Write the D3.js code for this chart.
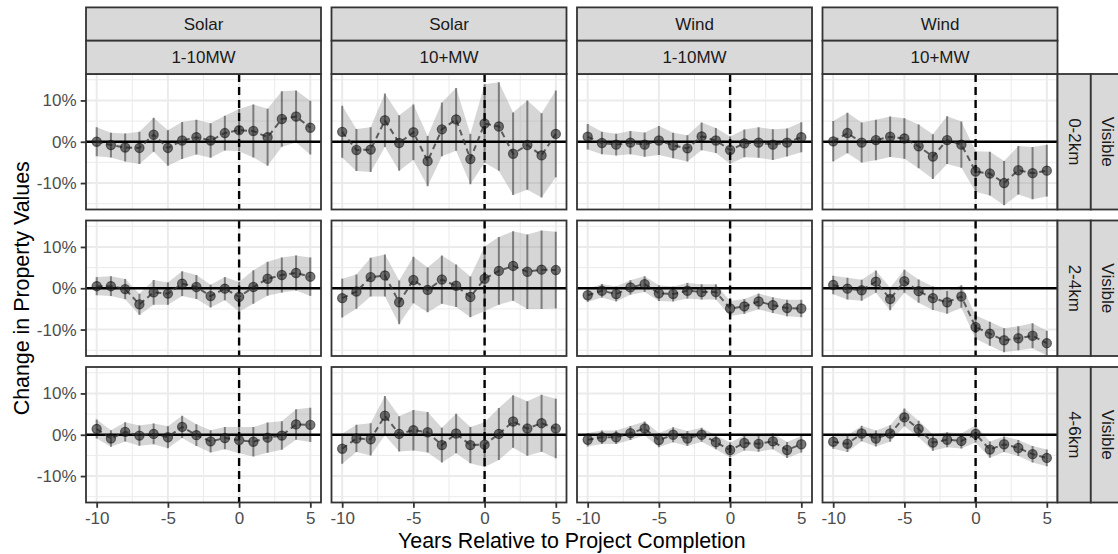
<!DOCTYPE html>
<html>
<head>
<meta charset="utf-8">
<script src="https://cdn.jsdelivr.net/npm/d3@7"></script>
<style>
  html, body { margin: 0; padding: 0; background: #ffffff; }
  svg { display: block; font-family: "Liberation Sans", Arial, Helvetica, sans-serif; }
</style>
</head>
<body>
<svg id="chart" width="1118" height="554"></svg>
<script>
// ---- Facet labels and axis ticks ----
const years = [-10, -9, -8, -7, -6, -5, -4, -3, -2, -1, 0, 1, 2, 3, 4, 5];
const technologies = ["Solar", "Solar", "Wind", "Wind"];
const capacities = ["1-10MW", "10+MW", "1-10MW", "10+MW"];
const distances = ["0-2km", "2-4km", "4-6km"];
const visibility = ["Visible", "Visible", "Visible"];
const xTicks = [-10, -5, 0, 5];
const xTickLabels = ["-10", "-5", "0", "5"];
const yTicks = [-10, 0, 10];
const yTickLabels = ["-10%", "0%", "10%"];
const xTitle = "Years Relative to Project Completion";
const yTitle = "Change in Property Values";

// ---- Event-study estimates (% change) and 95% CI half-widths ----
// Solar 1-10MW
const solarSmall02   = [0.0, -0.8, -1.4, -1.5, 1.7, -1.5, 0.3, 1.1, 0.3, 2.1, 2.8, 2.6, 1.1, 5.5, 6.1, 3.4];
const solarSmall02Ci = [3.5, 3.0, 3.4, 3.9, 4.1, 4.3, 4.5, 4.2, 4.2, 4.2, 5.1, 6.4, 6.9, 6.7, 6.3, 6.5];
const solarSmall24   = [0.5, 0.5, -0.2, -3.9, -1.0, -1.3, 1.1, 0.3, -1.9, -0.1, -2.1, 0.3, 2.3, 3.2, 3.7, 2.8];
const solarSmall24Ci = [2.2, 2.4, 2.45, 2.55, 3.0, 2.7, 3.0, 2.9, 2.75, 2.8, 3.6, 4.05, 4.1, 4.25, 4.25, 4.65];
const solarSmall46   = [1.4, -0.9, 0.7, -0.2, 0.2, -0.6, 1.9, -0.1, -1.6, -0.8, -1.3, -1.7, -0.7, -0.2, 2.5, 2.4];
const solarSmall46Ci = [2.3, 2.0, 2.35, 2.45, 2.5, 2.65, 2.7, 2.65, 2.7, 2.7, 3.2, 3.55, 3.65, 3.45, 3.7, 4.15];
// Solar 10+MW
const solarLarge02   = [2.4, -2.0, -1.9, 5.2, -0.3, 2.3, -4.7, 3.0, 5.4, -4.2, 4.4, 3.7, -2.9, -0.8, -3.3, 1.9];
const solarLarge02Ci = [6.3, 5.1, 5.4, 6.5, 6.7, 6.7, 6.1, 6.5, 7.6, 6.1, 9.5, 10.7, 10.0, 10.8, 10.2, 10.5];
const solarLarge24   = [-2.4, -0.8, 2.7, 3.1, -3.4, 2.0, -0.4, 2.1, 0.6, -2.1, 2.3, 4.2, 5.4, 4.0, 4.5, 4.4];
const solarLarge24Ci = [4.7, 4.15, 4.7, 5.1, 5.3, 5.65, 5.4, 5.85, 5.15, 4.95, 7.8, 8.2, 8.4, 9.0, 9.5, 9.3];
const solarLarge46   = [-3.4, -0.9, -1.1, 4.6, 0.2, 1.1, 0.6, -2.5, 0.3, -2.5, -2.4, 0.2, 3.2, 1.5, 2.8, 1.5];
const solarLarge46Ci = [3.65, 3.3, 3.9, 4.75, 4.25, 4.9, 4.9, 4.2, 4.8, 4.4, 5.4, 6.3, 6.35, 6.6, 6.9, 7.2];
// Wind 1-10MW
const windSmall02   = [1.2, -0.3, -0.7, -0.2, -0.7, 0.3, -0.9, -1.6, 1.3, 0.3, -2.0, -0.4, -0.2, -0.7, -0.2, 1.1];
const windSmall02Ci = [3.1, 2.7, 2.65, 2.8, 2.95, 3.5, 3.1, 3.2, 3.35, 3.0, 3.3, 3.35, 3.7, 3.7, 3.4, 3.65];
const windSmall24   = [-1.7, -0.6, -1.4, 0.2, 1.0, -1.2, -1.4, -0.6, -0.9, -0.9, -4.9, -4.4, -3.2, -4.1, -4.8, -4.9];
const windSmall24Ci = [1.6, 1.65, 1.8, 1.75, 1.9, 1.9, 1.8, 1.9, 1.85, 1.85, 1.8, 1.8, 1.9, 1.9, 2.0, 2.1];
const windSmall46   = [-1.2, -0.6, -0.6, 0.4, 1.5, -1.3, 0.0, -0.9, 0.0, -1.8, -3.7, -2.0, -2.2, -1.6, -3.7, -2.3];
const windSmall46Ci = [1.65, 1.65, 1.65, 1.7, 1.7, 1.75, 1.8, 1.8, 1.7, 1.7, 1.8, 1.8, 1.9, 1.9, 1.95, 2.0];
// Wind 10+MW
const windLarge02   = [0.1, 2.1, -0.2, 0.4, 1.2, 0.8, -1.1, -3.6, 0.4, -0.7, -7.2, -7.7, -10.0, -6.9, -7.6, -7.0];
const windLarge02Ci = [4.9, 4.9, 4.85, 4.9, 4.9, 4.9, 5.3, 5.4, 5.8, 5.6, 4.9, 5.3, 5.35, 5.85, 6.3, 6.25];
const windLarge24   = [0.8, -0.1, -0.5, 1.6, -2.6, 1.7, -0.7, -2.4, -3.4, -2.0, -9.4, -11.0, -12.6, -12.1, -11.5, -13.3];
const windLarge24Ci = [2.25, 2.65, 2.55, 2.7, 2.7, 2.8, 2.8, 2.85, 2.8, 2.75, 2.85, 2.9, 2.9, 2.9, 3.0, 3.0];
const windLarge46   = [-1.7, -2.2, 0.3, -0.9, 0.3, 4.2, 1.4, -1.9, -1.2, -1.5, 0.2, -3.6, -2.3, -3.2, -4.7, -5.6];
const windLarge46Ci = [1.7, 2.0, 1.85, 1.95, 2.0, 2.15, 2.0, 2.0, 1.8, 1.8, 2.1, 1.95, 1.9, 1.95, 2.0, 2.0];

// Grid of panels: rows = distance band, columns = technology x capacity
const panelSeries = [
  [[solarSmall02, solarSmall02Ci], [solarLarge02, solarLarge02Ci], [windSmall02, windSmall02Ci], [windLarge02, windLarge02Ci]],
  [[solarSmall24, solarSmall24Ci], [solarLarge24, solarLarge24Ci], [windSmall24, windSmall24Ci], [windLarge24, windLarge24Ci]],
  [[solarSmall46, solarSmall46Ci], [solarLarge46, solarLarge46Ci], [windSmall46, windSmall46Ci], [windLarge46, windLarge46Ci]]
];

// ---- Layout ----
const panelLeft = 86, panelTop = 74;
const panelW = 235, panelH = 135.5;
const gapX = 10.5, gapY = 11;
const stripH = 33.3;
const tickLen = 5.3, tickPad = 4.2;
const fontTick = 17, fontTitle = 21.4;

const svg = d3.select("#chart");

const x = d3.scaleLinear().domain([-10.75, 5.75]).range([0, panelW]);
const y = d3.scaleLinear().domain([-16.4, 16.4]).range([panelH, 0]);

const minorX = [-7.5, -2.5, 2.5];
const minorY = [-15, -5, 5, 15];

const nRows = distances.length, nCols = technologies.length;
const colX = c => panelLeft + c * (panelW + gapX);
const rowY = r => panelTop + r * (panelH + gapY);
const gridRight = colX(nCols - 1) + panelW;
const gridBottom = rowY(nRows - 1) + panelH;

const defs = svg.append("defs");

for (let r = 0; r < nRows; r++) {
  for (let c = 0; c < nCols; c++) {
    const [est, ci] = panelSeries[r][c];
    const data = years.map((yr, i) => ({ year: yr, est: est[i], lo: est[i] - ci[i], hi: est[i] + ci[i] }));
    const clipId = `clip-${r}-${c}`;
    defs.append("clipPath").attr("id", clipId)
      .append("rect").attr("width", panelW).attr("height", panelH);

    const g = svg.append("g").attr("transform", `translate(${colX(c)},${rowY(r)})`);
    const inner = g.append("g").attr("clip-path", `url(#${clipId})`);

    inner.append("rect").attr("width", panelW).attr("height", panelH).attr("fill", "#ffffff");

    // minor grid
    inner.selectAll(".mgx").data(minorX).join("line")
      .attr("x1", d => x(d)).attr("x2", d => x(d)).attr("y1", 0).attr("y2", panelH)
      .attr("stroke", "#ebebeb").attr("stroke-width", 1);
    inner.selectAll(".mgy").data(minorY).join("line")
      .attr("y1", d => y(d)).attr("y2", d => y(d)).attr("x1", 0).attr("x2", panelW)
      .attr("stroke", "#ebebeb").attr("stroke-width", 1);
    // major grid
    inner.selectAll(".gx").data(xTicks).join("line")
      .attr("x1", d => x(d)).attr("x2", d => x(d)).attr("y1", 0).attr("y2", panelH)
      .attr("stroke", "#ebebeb").attr("stroke-width", 2);
    inner.selectAll(".gy").data(yTicks).join("line")
      .attr("y1", d => y(d)).attr("y2", d => y(d)).attr("x1", 0).attr("x2", panelW)
      .attr("stroke", "#ebebeb").attr("stroke-width", 2);

    // confidence ribbon
    const area = d3.area().x(d => x(d.year)).y0(d => y(d.lo)).y1(d => y(d.hi));
    inner.append("path").datum(data).attr("d", area)
      .attr("fill", "#999999").attr("fill-opacity", 0.4);

    // error bars
    inner.selectAll(".eb").data(data).join("line")
      .attr("x1", d => x(d.year)).attr("x2", d => x(d.year))
      .attr("y1", d => y(d.lo)).attr("y2", d => y(d.hi))
      .attr("stroke", "#333333").attr("stroke-opacity", 0.55).attr("stroke-width", 2);

    // reference lines
    inner.append("line")
      .attr("x1", 0).attr("x2", panelW).attr("y1", y(0)).attr("y2", y(0))
      .attr("stroke", "#000000").attr("stroke-width", 2.6);
    inner.append("line")
      .attr("x1", x(0)).attr("x2", x(0)).attr("y1", 0).attr("y2", panelH)
      .attr("stroke", "#000000").attr("stroke-width", 2.4).attr("stroke-dasharray", "8,5");

    // connecting dashed line
    const line = d3.line().x(d => x(d.year)).y(d => y(d.est));
    inner.append("path").datum(data).attr("d", line)
      .attr("fill", "none").attr("stroke", "#333333").attr("stroke-opacity", 0.75)
      .attr("stroke-width", 2).attr("stroke-dasharray", "6,4");

    // point estimates
    inner.selectAll(".pt").data(data).join("circle")
      .attr("cx", d => x(d.year)).attr("cy", d => y(d.est)).attr("r", 4.6)
      .attr("fill", "#222222").attr("fill-opacity", 0.6)
      .attr("stroke", "#111111").attr("stroke-opacity", 0.55).attr("stroke-width", 1.2);

    // panel border
    g.append("rect").attr("width", panelW).attr("height", panelH)
      .attr("fill", "none").attr("stroke", "#333333").attr("stroke-width", 1.8);

    // y axis on the first column
    if (c === 0) {
      const ax = g.append("g").call(
        d3.axisLeft(y).tickValues(yTicks).tickFormat((d, i) => yTickLabels[i])
          .tickSize(tickLen).tickPadding(tickPad));
      ax.select(".domain").remove();
      ax.selectAll(".tick line").attr("stroke", "#333333").attr("stroke-width", 1.8);
      ax.selectAll(".tick text").attr("fill", "#4d4d4d").attr("font-size", fontTick)
        .attr("font-family", "Liberation Sans, Arial, sans-serif");
    }
    // x axis on the bottom row
    if (r === nRows - 1) {
      const ax = g.append("g").attr("transform", `translate(0,${panelH})`).call(
        d3.axisBottom(x).tickValues(xTicks).tickFormat((d, i) => xTickLabels[i])
          .tickSize(tickLen).tickPadding(tickPad));
      ax.select(".domain").remove();
      ax.selectAll(".tick line").attr("stroke", "#333333").attr("stroke-width", 1.8);
      ax.selectAll(".tick text").attr("fill", "#4d4d4d").attr("font-size", fontTick)
        .attr("font-family", "Liberation Sans, Arial, sans-serif");
    }
  }
}

// ---- Strips ----
function strip(x0, y0, w, h, label, rotate) {
  const s = svg.append("g");
  s.append("rect").attr("x", x0).attr("y", y0).attr("width", w).attr("height", h)
    .attr("fill", "#d9d9d9").attr("stroke", "#333333").attr("stroke-width", 1.8);
  const cx = x0 + w / 2, cy = y0 + h / 2;
  s.append("text").attr("x", cx).attr("y", cy)
    .attr("transform", rotate ? `rotate(90,${cx},${cy})` : null)
    .attr("text-anchor", "middle").attr("dominant-baseline", "central")
    .attr("fill", "#1a1a1a").attr("font-size", fontTick).text(label);
}
for (let c = 0; c < nCols; c++) {
  strip(colX(c), panelTop - 2 * stripH, panelW, stripH, technologies[c], false);
  strip(colX(c), panelTop - stripH, panelW, stripH, capacities[c], false);
}
for (let r = 0; r < nRows; r++) {
  strip(gridRight, rowY(r), stripH, panelH, distances[r], true);
  strip(gridRight + stripH, rowY(r), stripH, panelH, visibility[r], true);
}

// ---- Axis titles ----
svg.append("text")
  .attr("x", (panelLeft + gridRight) / 2).attr("y", 548)
  .attr("text-anchor", "middle").attr("fill", "#000000").attr("font-size", fontTitle)
  .text(xTitle);
const yMid = (panelTop + gridBottom) / 2;
svg.append("text")
  .attr("transform", `translate(29,${yMid}) rotate(-90)`)
  .attr("text-anchor", "middle").attr("fill", "#000000").attr("font-size", fontTitle)
  .text(yTitle);
</script>
</body>
</html>
